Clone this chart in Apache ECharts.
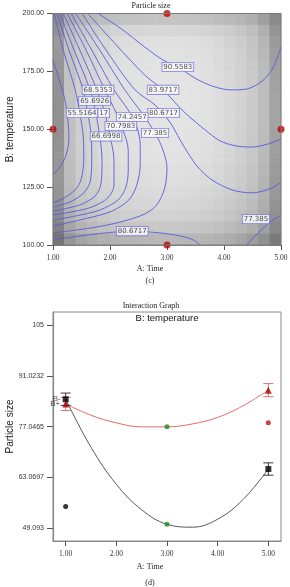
<!DOCTYPE html>
<html>
<head>
<meta charset="UTF-8">
<title>Particle size</title>
<style>
  html, body { margin: 0; padding: 0; background: #fff; }
  #main { width: 290px; height: 587px; }
</style>
</head>
<body>
<div id="main"></div>
<script src="https://cdn.jsdelivr.net/npm/echarts@6/dist/echarts.min.js"></script>
<script>
// ===== (c) contour plot =====
// gray shading, top row = B 200, columns A 1 -> 5
var shadeRows = [
  [140,172,182,186,190,192,194,195,196,196,196,195,194,192,190,186,182,175,160,138],
  [146,186,198,204,208,211,213,214,215,215,215,214,213,211,208,204,198,190,176,148],
  [155,192,204,210,215,219,221,222,223,224,224,223,222,220,216,211,205,196,182,155],
  [152,193,206,212,217,221,223,224,225,226,226,225,224,222,218,213,207,198,185,158],
  [150,194,207,213,218,222,224,225,226,227,227,226,225,223,219,214,208,200,187,160],
  [148,194,207,214,219,223,225,226,227,228,228,227,226,224,220,215,209,201,188,162],
  [146,194,208,214,219,223,225,227,228,228,228,228,227,225,221,216,210,202,189,163],
  [145,194,208,214,219,223,226,227,228,229,229,228,227,225,221,216,210,202,189,164],
  [145,194,208,214,219,223,226,227,228,229,229,228,227,225,221,216,210,202,189,164],
  [145,193,207,214,219,223,225,227,228,228,228,228,227,225,221,216,210,202,189,163],
  [146,193,207,213,218,222,225,226,227,228,228,227,226,224,220,215,209,201,188,162],
  [148,192,206,213,218,222,224,225,226,227,227,226,225,223,219,214,208,200,187,160],
  [150,191,205,212,217,221,223,224,225,226,226,225,224,222,218,213,207,199,185,158],
  [150,190,204,210,215,219,221,222,223,224,224,223,222,220,216,211,205,197,183,156],
  [150,188,202,208,213,217,219,220,221,222,222,221,220,218,214,209,203,195,181,154],
  [148,185,199,205,210,214,216,217,218,219,219,218,217,215,211,206,200,192,178,152],
  [145,181,195,201,206,210,212,213,214,215,215,214,213,211,207,202,196,188,174,148],
  [140,176,190,196,201,205,207,208,209,210,210,209,208,206,202,197,191,183,170,144],
  [130,166,180,187,192,195,197,198,199,200,200,199,198,196,193,188,181,174,160,136],
  [116,150,164,171,176,179,181,182,183,184,184,183,182,180,177,172,165,157,144,122]
];

// contour lines, points are [A: Time, B: temperature]
var arcLeft = [[1.00,179.9],[1.11,171.3],[1.21,162.6],[1.26,154.0],[1.28,146.2],[1.23,138.9],[1.12,133.7],[1.00,130.2]];
var c1 = [[1.02,200],[1.18,184.2],[1.39,167.0],[1.47,157.0],[1.53,147.1],[1.54,136.7],[1.49,128.1],[1.39,123.8],[1.19,120.3],[1.00,118.1]];
var c2 = [[1.07,200],[1.28,184.2],[1.53,167.0],[1.61,157.0],[1.67,147.1],[1.68,136.7],[1.65,127.2],[1.54,122.5],[1.30,118.6],[1.00,116.4]];
var c3 = [[1.12,200],[1.37,184.2],[1.65,167.0],[1.75,157.0],[1.82,147.1],[1.86,136.7],[1.84,126.3],[1.74,121.2],[1.47,117.3],[1.00,114.7]];
var c4 = [[1.18,200],[1.47,184.2],[1.77,167.0],[1.91,157.0],[2.00,147.1],[2.07,136.7],[2.07,125.9],[1.96,120.3],[1.68,116.4],[1.33,114.3],[1.00,113.0]];
var c5 = [[1.25,200],[1.58,184.2],[1.91,167.0],[2.11,157.0],[2.23,149.7],[2.32,141.0],[2.32,132.4],[2.28,125.1],[2.14,119.4],[1.82,115.1],[1.39,112.5],[1.00,110.8]];
var c6 = [[1.32,200],[1.68,184.2],[2.07,167.0],[2.32,158.3],[2.46,151.8],[2.53,143.2],[2.53,134.6],[2.47,125.9],[2.33,119.4],[2.00,114.3],[1.47,110.8],[1.00,108.2]];
var c7 = [[1.40,200],[1.82,184.2],[2.26,167.0],[2.56,157.0],[2.79,148.4],[2.93,141.0],[3.00,133.3],[2.96,124.6],[2.82,117.3],[2.61,113.4],[2.18,109.9],[1.65,107.3],[1.00,105.2]];
var c8 = [[1.51,200],[1.93,184.2],[2.44,167.0],[2.79,160.5],[3.05,153.1],[3.23,145.4],[3.37,139.7],[3.54,133.7],[3.79,128.1],[4.14,123.8],[4.49,122.5],[4.84,124.6],[5.00,127.2]];
var c9 = [[1.61,200],[2.11,186.4],[2.61,173.4],[2.93,167.0],[3.32,157.0],[3.67,149.7],[3.93,145.0],[4.21,142.8],[4.49,142.3],[4.77,143.6],[5.00,145.8]];
var c10 = [[1.79,200],[2.18,193.7],[2.61,185.5],[2.93,179.9],[3.19,176.9],[3.49,172.1],[3.79,168.7],[4.11,167.0],[4.40,167.4],[4.67,170.8],[4.86,176.5],[5.00,185.5]];
var cBottom = [[1.00,102.2],[1.47,103.9],[1.91,105.2],[2.39,106.0],[2.88,105.2],[3.23,103.9],[3.46,102.2],[3.58,100.0]];
var cCorner = [[4.40,100.0],[4.53,103.5],[4.67,106.9],[4.81,109.9],[5.00,113.0]];
var contourLines = [arcLeft, c1, c2, c3, c4, c5, c6, c7, c8, c9, c10, cBottom, cCorner];

// level boxes [A, B, text]
var contourLabels = [
  [3.19, 176.9, '90.5583'],
  [2.93, 167.0, '83.9717'],
  [2.94, 157.0, '80.6717'],
  [2.79, 148.4, '77.385'],
  [2.39, 155.3, '74.2457'],
  [2.19, 151.4, '70.7983'],
  [1.93, 146.9, '66.6998'],
  [1.79, 167.0, '68.5353'],
  [1.73, 162.2, '65.6926'],
  [1.51, 157.0, '55.5164'],
  [1.89, 157.0, '17'],
  [2.39, 106.0, '80.6717'],
  [4.56, 111.2, '77.385']
];
var designPoints = [[1, 150], [3, 200], [3, 100], [5, 150]];

// ===== (d) interaction graph =====
var timeTicks = [1, 2, 3, 4, 5];
var sizeTicks = [49.093, 63.0697, 77.0465, 91.0232, 105];
var curveTime = [1, 1.5, 2, 2.5, 3, 3.5, 4, 4.5, 5];
var curveLow = [84.6, 71.4, 61.2, 54.2, 50.2, 49.4, 51.6, 57.0, 65.4];   // B-
var curveHigh = [83.3, 80.2, 78.1, 77.0, 77.0, 77.8, 79.6, 82.8, 87.1];  // B+
var lowEnds = [[1, 84.6], [5, 65.4]];
var highEnds = [[1, 83.3], [5, 87.1]];
var lowErr = [[1, 82.9, 86.3], [5, 63.7, 67.1]];
var highErr = [[1, 81.5, 85.1], [5, 85.3, 88.9]];
var centerPts = [[3, 77.0], [3, 50.2]];
var actualLow = [[1, 55.1]];
var actualHigh = [[5, 78.1]];

var myChart = echarts.init(document.getElementById('main'));

var heatData = [];
shadeRows.forEach(function (row, r) {
  row.forEach(function (v, c) {
    heatData.push([c, shadeRows.length - 1 - r, v]);
  });
});

function zip(xs, ys) {
  return xs.map(function (x, i) { return [x, ys[i]]; });
}

function errorBars(color) {
  return function (params, api) {
    var top = api.coord([api.value(0), api.value(2)]);
    var bot = api.coord([api.value(0), api.value(1)]);
    var w = 5;
    var st = { stroke: color, lineWidth: 0.9 };
    return {
      type: 'group',
      children: [
        { type: 'line', shape: { x1: top[0], y1: top[1], x2: bot[0], y2: bot[1] }, style: st },
        { type: 'line', shape: { x1: top[0] - w, y1: top[1], x2: top[0] + w, y2: top[1] }, style: st },
        { type: 'line', shape: { x1: bot[0] - w, y1: bot[1], x2: bot[0] + w, y2: bot[1] }, style: st }
      ]
    };
  };
}

var tickFont = { fontFamily: 'Liberation Serif', fontSize: 7.5, color: '#333' };
var numFont = { fontFamily: 'Liberation Sans', fontSize: 7, color: '#333' };

var series = [{
  type: 'heatmap',
  xAxisIndex: 0,
  yAxisIndex: 0,
  data: heatData,
  silent: true,
  z: 1
}];

contourLines.forEach(function (pts) {
  series.push({
    type: 'line',
    xAxisIndex: 1,
    yAxisIndex: 1,
    data: pts,
    showSymbol: false,
    smooth: 0.3,
    silent: true,
    lineStyle: { color: '#5a5ade', width: 0.9 },
    z: 3
  });
});

series.push({
  type: 'scatter',
  xAxisIndex: 1,
  yAxisIndex: 1,
  data: contourLabels,
  symbolSize: 1,
  itemStyle: { color: 'transparent' },
  silent: true,
  z: 5,
  label: {
    show: true,
    position: 'inside',
    formatter: function (p) { return p.data[2]; },
    fontFamily: 'DejaVu Sans',
    fontSize: 7,
    lineHeight: 8,
    color: '#1a1a1a',
    backgroundColor: '#ffffff',
    borderColor: '#6b6bd6',
    borderWidth: 0.8,
    padding: [0.5, 1, 0, 1]
  }
});

series.push({
  type: 'scatter',
  xAxisIndex: 1,
  yAxisIndex: 1,
  data: designPoints,
  symbolSize: 7,
  clip: false,
  itemStyle: { color: '#c00000' },
  z: 6
});

// interaction graph
series.push({
  type: 'line', xAxisIndex: 2, yAxisIndex: 2,
  data: zip(curveTime, curveLow), smooth: 0.4, showSymbol: false,
  lineStyle: { color: '#444', width: 0.9 }
});
series.push({
  type: 'line', xAxisIndex: 2, yAxisIndex: 2,
  data: zip(curveTime, curveHigh), smooth: 0.4, showSymbol: false,
  lineStyle: { color: '#e36a6a', width: 1 }
});
series.push({
  type: 'custom', xAxisIndex: 2, yAxisIndex: 2,
  data: lowErr, renderItem: errorBars('#222'), z: 4
});
series.push({
  type: 'custom', xAxisIndex: 2, yAxisIndex: 2,
  data: highErr, renderItem: errorBars('#e06060'), z: 4
});
series.push({
  type: 'scatter', xAxisIndex: 2, yAxisIndex: 2,
  data: lowEnds, symbol: 'rect', symbolSize: 6,
  itemStyle: { color: '#000' }, z: 5,
  label: {
    show: true, position: 'left', distance: 2,
    formatter: function (p) { return p.dataIndex === 0 ? 'B-' : ''; },
    fontFamily: 'Liberation Sans', fontSize: 8, color: '#222'
  }
});
series.push({
  type: 'scatter', xAxisIndex: 2, yAxisIndex: 2,
  data: highEnds, symbol: 'triangle', symbolSize: 7,
  itemStyle: { color: '#a80000' }, z: 5,
  label: {
    show: true, position: 'left', distance: 2,
    formatter: function (p) { return p.dataIndex === 0 ? 'B+' : ''; },
    fontFamily: 'Liberation Sans', fontSize: 8, color: '#222'
  }
});
series.push({
  type: 'scatter', xAxisIndex: 2, yAxisIndex: 2,
  data: centerPts, symbolSize: 5,
  itemStyle: { color: '#1e8c1e' }, z: 5
});
series.push({
  type: 'scatter', xAxisIndex: 2, yAxisIndex: 2,
  data: actualLow, symbolSize: 5,
  itemStyle: { color: '#000' }, z: 5
});
series.push({
  type: 'scatter', xAxisIndex: 2, yAxisIndex: 2,
  data: actualHigh, symbolSize: 5,
  itemStyle: { color: '#c01010' }, z: 5
});

var serifText = '8px "Liberation Serif"';

option = {
  animation: false,
  grid: [
    { left: 53, top: 13.5, width: 228, height: 231.5, outerBoundsMode: 'none' },
    { left: 53, top: 13.5, width: 228, height: 231.5, outerBoundsMode: 'none' },
    { left: 53, top: 312, width: 228, height: 229, outerBoundsMode: 'none', show: true, borderColor: '#888', borderWidth: 1 }
  ],
  visualMap: {
    show: false,
    seriesIndex: 0,
    dimension: 2,
    min: 100,
    max: 240,
    inRange: { color: ['#646464', '#f0f0f0'] }
  },
  xAxis: [
    { type: 'category', gridIndex: 0, show: false, data: shadeRows[0].map(function (v, i) { return i; }) },
    {
      type: 'value', gridIndex: 1, min: 1, max: 5, interval: 1,
      splitLine: { show: false },
      axisLine: { lineStyle: { color: '#777', width: 1 } },
      axisTick: { length: 5, lineStyle: { color: '#555' } },
      axisLabel: Object.assign({ margin: 9, formatter: function (v) { return v.toFixed(2); } }, tickFont)
    },
    {
      type: 'value', gridIndex: 2, min: 0.75, max: 5.25,
      splitLine: { show: false },
      axisLine: { lineStyle: { color: '#888', width: 1.2 } },
      axisTick: { length: 5, customValues: timeTicks, lineStyle: { color: '#555' } },
      axisLabel: Object.assign({ margin: 9, customValues: timeTicks, formatter: function (v) { return v.toFixed(2); } }, tickFont)
    }
  ],
  yAxis: [
    { type: 'category', gridIndex: 0, show: false, data: shadeRows.map(function (v, i) { return i; }) },
    {
      type: 'value', gridIndex: 1, min: 100, max: 200, interval: 25,
      name: 'B: temperature', nameLocation: 'middle', nameGap: 38, nameMoveOverlap: false,
      nameTextStyle: { fontFamily: 'Liberation Sans', fontSize: 10, color: '#222' },
      splitLine: { show: false },
      axisLine: { lineStyle: { color: '#777', width: 1 } },
      axisTick: { length: 6, lineStyle: { color: '#555' } },
      axisLabel: Object.assign({ margin: 9, formatter: function (v) { return v.toFixed(2); } }, numFont)
    },
    {
      type: 'value', gridIndex: 2, min: 45.6, max: 108.6,
      name: 'Particle size', nameLocation: 'middle', nameGap: 38, nameMoveOverlap: false,
      nameTextStyle: { fontFamily: 'Liberation Sans', fontSize: 10, color: '#222' },
      splitLine: { show: false },
      axisLine: { lineStyle: { color: '#888', width: 1.2 } },
      axisTick: { length: 6, customValues: sizeTicks, lineStyle: { color: '#555' } },
      axisLabel: Object.assign({ margin: 9, customValues: sizeTicks, formatter: function (v) { return String(v); } }, numFont)
    }
  ],
  graphic: [
    { type: 'rect', z: 100, silent: true, shape: { x: 53, y: 13.5, width: 228, height: 231.5 }, style: { fill: 'none', stroke: '#7a7a7a', lineWidth: 1 } },
    { type: 'text', x: 151, y: 6, style: { text: 'Particle size', font: serifText, fill: '#222', align: 'center', verticalAlign: 'middle' } },
    { type: 'text', x: 150, y: 269, style: { text: 'A: Time', font: serifText, fill: '#222', align: 'center', verticalAlign: 'middle' } },
    { type: 'text', x: 150, y: 281, style: { text: '(c)', font: serifText, fill: '#222', align: 'center', verticalAlign: 'middle' } },
    { type: 'text', x: 151, y: 306, style: { text: 'Interaction Graph', font: serifText, fill: '#222', align: 'center', verticalAlign: 'middle' } },
    { type: 'text', x: 167, y: 318, style: { text: 'B: temperature', font: '9.5px "Liberation Sans"', fill: '#111', align: 'center', verticalAlign: 'middle' } },
    { type: 'text', x: 150, y: 567, style: { text: 'A: Time', font: serifText, fill: '#222', align: 'center', verticalAlign: 'middle' } },
    { type: 'text', x: 150, y: 583, style: { text: '(d)', font: serifText, fill: '#222', align: 'center', verticalAlign: 'middle' } }
  ],
  series: series
};

myChart.setOption(option);
</script>
</body>
</html>
